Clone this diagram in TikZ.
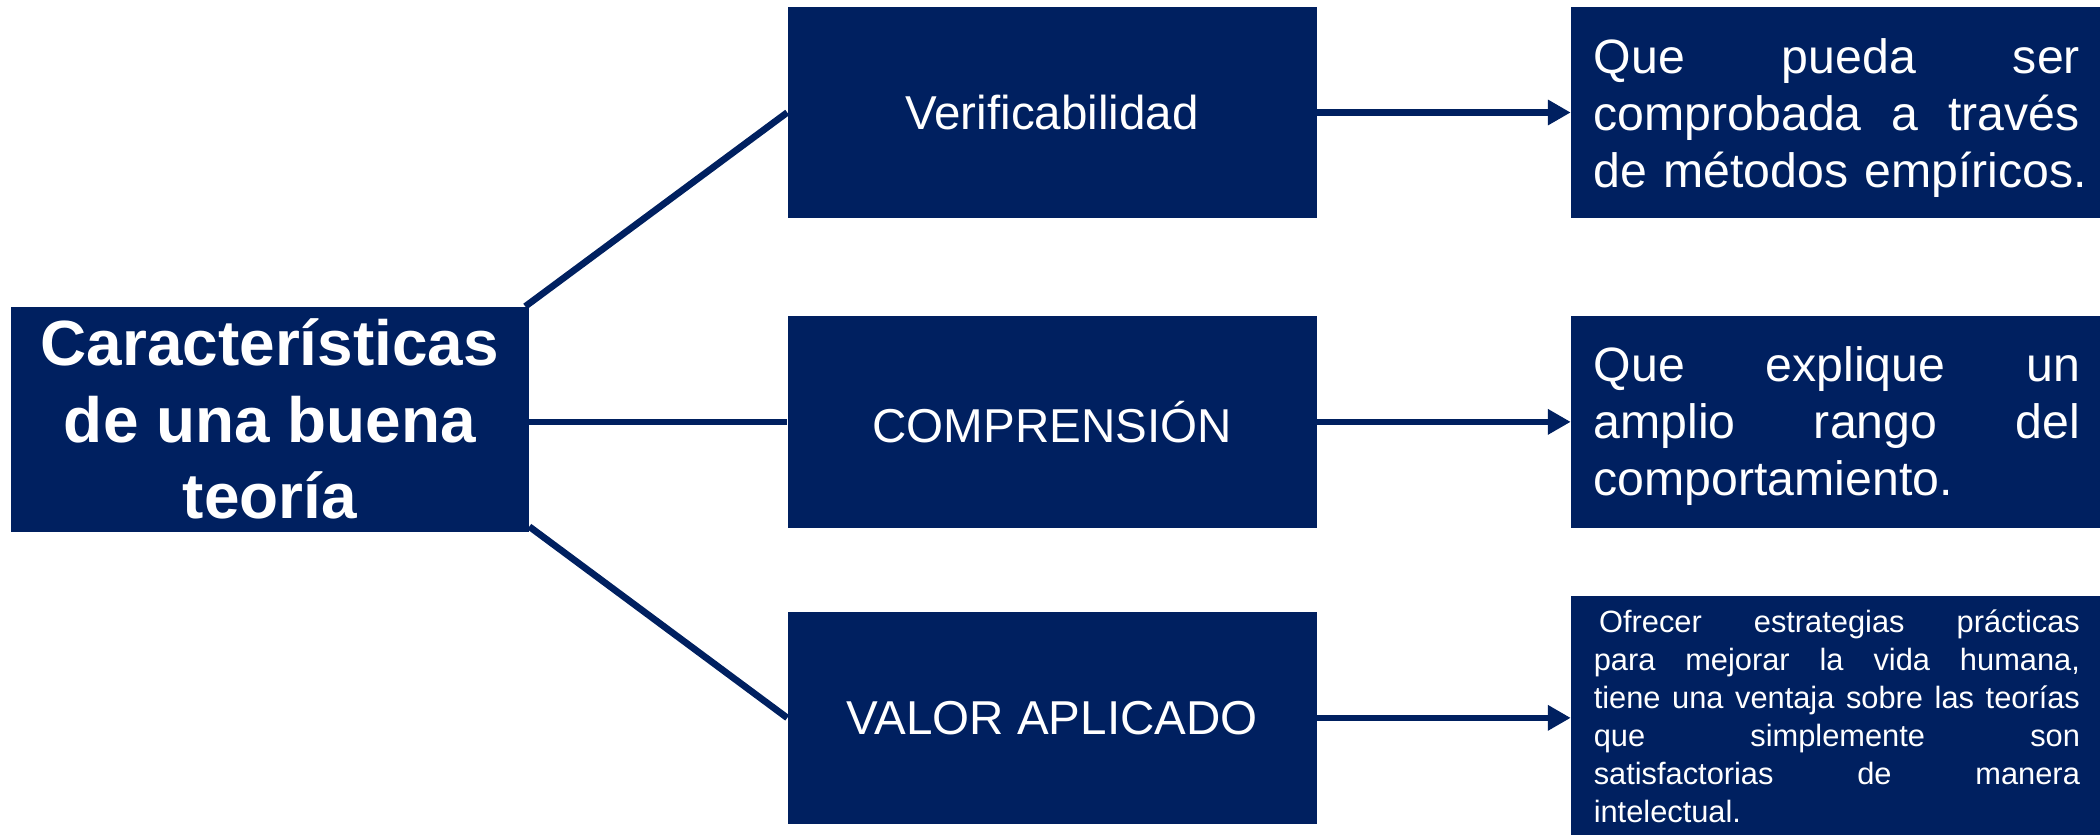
\documentclass[tikz,border=0pt]{standalone}
\usepackage{fontspec}
\setmainfont{Liberation Sans}
\usetikzlibrary{arrows.meta}
\definecolor{navy}{RGB}{0,32,96}
\newcommand{\jline}[1]{\leavevmode\hbox to 363pt{\spaceskip=\fontdimen2\font plus 1fil\relax #1}}
\newcommand{\lline}[1]{\leavevmode\hbox to 363pt{#1\hfil}}
\begin{document}
\begin{tikzpicture}[x=1pt,y=-1pt,
  box/.style={fill=navy, draw=none, inner sep=0pt, text=white, align=center},
  midbox/.style={box, minimum width=395pt, minimum height=158pt, font=\fontsize{35.5}{40}\selectfont},
  descbox/.style={box, minimum width=397pt, text width=363pt, align=left},
  link/.style={draw=navy, line width=5pt},
  arr/.style={link, -{Triangle[length=17pt,width=18pt]}}]
\useasboundingbox (0,0) rectangle (1568,623);
\node[box, minimum width=387pt, minimum height=168pt, font=\fontsize{47.7}{57}\selectfont\bfseries] (title) at (201.5,313) {Características\\de una buena\\teoría};
\node[midbox] (v) at (785.5,84) {Verificabilidad};
\node[midbox] (c) at (785.5,315) {COMPRENSIÓN};
\node[midbox] (a) at (785.5,536) {VALOR APLICADO};
\node[descbox, minimum height=158pt, font=\fontsize{36}{42.5}\selectfont] (dv) at (1371.5,84)
  {\jline{\rule{0pt}{34pt}Que pueda ser}\\\jline{comprobada a través}\\\lline{de métodos empíricos.}};
\node[descbox, minimum height=158pt, font=\fontsize{36}{42.5}\selectfont] (dc) at (1371.5,315)
  {\jline{\rule{0pt}{32.5pt}Que explique un}\\\jline{amplio rango del}\\\lline{comportamiento.}};
\node[descbox, minimum height=180pt, font=\fontsize{23}{28.4}\selectfont] (da) at (1371.5,535)
  {\jline{\kern4pt Ofrecer estrategias prácticas}\\\jline{para mejorar la vida humana,}\\\jline{tiene una ventaja sobre las teorías}\\\jline{que simplemente son}\\\jline{satisfactorias de manera}\\\lline{intelectual.}};
\draw[link] ([xshift=-3pt]title.north east) -- (v.west);
\draw[link] (c.west -| title.east) -- (c.west);
\draw[link] ([yshift=4pt]title.south east) -- (a.west);
\draw[arr] (v.east) -- (v.east -| dv.west);
\draw[arr] (c.east) -- (c.east -| dc.west);
\draw[arr] (a.east) -- (a.east -| da.west);
\end{tikzpicture}
\end{document}
